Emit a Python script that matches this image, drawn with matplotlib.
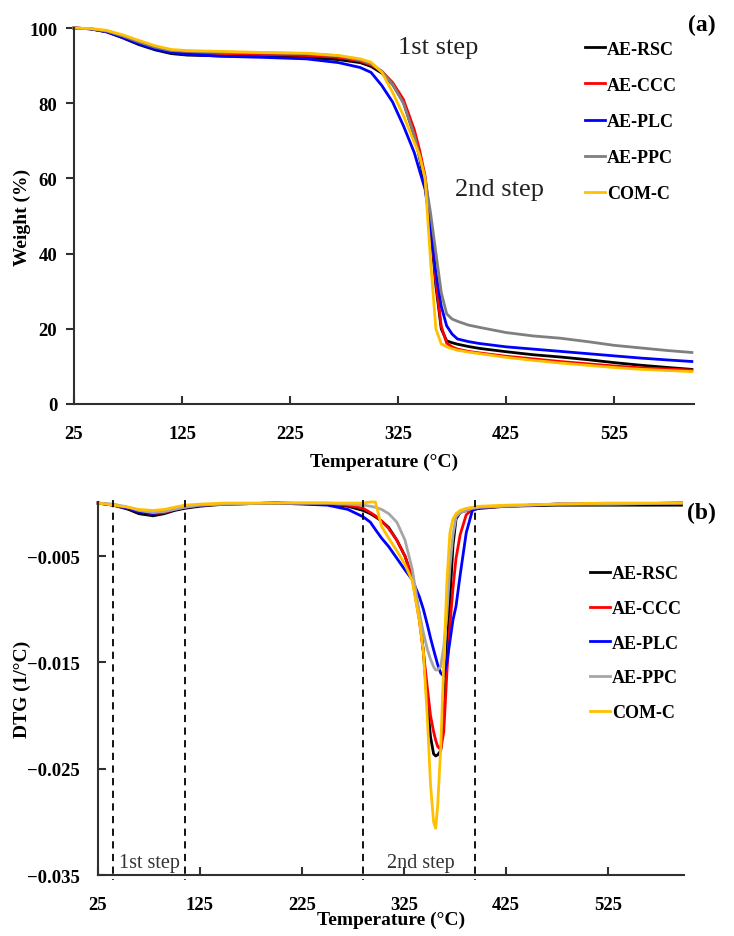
import matplotlib
matplotlib.use('Agg')
import matplotlib.pyplot as plt

names = ['AE-RSC', 'AE-CCC', 'AE-PLC', 'AE-PPC', 'COM-C']
colors_a = ['#000000', '#FF0000', '#0000FF', '#7F7F7F', '#FFC000']
colors_b = ['#000000', '#FF0000', '#0000FF', '#A6A6A6', '#FFC000']

# TGA (a)
temp_tga = [25, 40, 55, 70, 85, 100, 115, 130, 160, 200, 240, 270, 290, 300, 310, 320, 330,
            340, 345, 350, 355, 360, 365, 370, 375, 380, 390, 400, 425, 450, 475, 500,
            525, 550, 575, 597]
w_rsc = [100, 99.8, 99.0, 97.4, 95.6, 94.2, 93.2, 92.8, 92.6, 92.4, 92.2, 91.6, 90.8, 89.8,
         88.0, 85.0, 80.3, 71.4, 65.5, 58.0, 47.4, 31.5, 20.0, 16.8, 16.3, 15.9, 15.3, 14.8,
         13.9, 13.1, 12.5, 11.8, 11.0, 10.3, 9.7, 9.2]
w_ccc = [100, 99.8, 99.1, 97.7, 96.0, 94.6, 93.8, 93.5, 93.3, 93.0, 92.7, 92.2, 91.2, 90.2,
         88.5, 85.5, 81.0, 73.0, 67.5, 60.7, 48.6, 32.8, 20.7, 16.2, 15.2, 14.6, 14.0, 13.6,
         12.7, 12.0, 11.3, 10.7, 10.1, 9.6, 9.3, 9.0]
w_plc = [100, 99.8, 99.0, 97.5, 95.8, 94.4, 93.5, 93.0, 92.5, 92.2, 91.8, 90.8, 89.5, 88.2,
         84.7, 80.3, 74.0, 66.9, 62.0, 57.2, 47.4, 35.0, 26.0, 20.8, 18.6, 17.3, 16.6, 16.1,
         15.2, 14.6, 14.0, 13.4, 12.8, 12.2, 11.7, 11.3]
w_ppc = [100, 99.8, 99.2, 97.9, 96.3, 94.9, 94.0, 93.8, 93.6, 93.4, 93.2, 92.6, 91.5, 90.5,
         88.5, 85.0, 80.0, 71.5, 66.0, 60.0, 51.0, 40.3, 29.7, 24.0, 22.6, 22.0, 21.0, 20.4,
         19.0, 18.1, 17.5, 16.6, 15.6, 14.9, 14.2, 13.7]
w_com = [100, 99.9, 99.4, 98.2, 96.7, 95.3, 94.3, 94.0, 93.8, 93.5, 93.3, 92.7, 91.8, 90.9,
         88.2, 82.9, 76.7, 69.6, 66.0, 60.0, 38.6, 20.0, 16.0, 15.2, 14.7, 14.3, 13.8, 13.4,
         12.4, 11.6, 10.9, 10.3, 9.7, 9.2, 8.9, 8.6]

# DTG (b)
temp_dtg = [25, 40, 55, 65, 79, 90, 100, 110, 125, 150, 200, 250, 270, 285, 292, 297, 303,
            310, 318, 326, 333, 340, 344, 348, 351, 354, 356, 358, 361, 364, 367, 370, 373,
            376, 380, 386, 392, 400, 425, 475, 525, 597]
d_rsc = [0, -0.0002, -0.0006, -0.0010, -0.0012, -0.0010, -0.0007, -0.0005, -0.0003, -0.0001,
         0.0, -0.0001, -0.0003, -0.0007, -0.0010, -0.0013, -0.0017, -0.0023, -0.0035, -0.0050,
         -0.0070, -0.0105, -0.0140, -0.0190, -0.0220, -0.0236, -0.0238, -0.0237, -0.0233,
         -0.0200, -0.0145, -0.0090, -0.0040, -0.0015, -0.0009, -0.0007, -0.0006, -0.0005,
         -0.0003, -0.0002, -0.0002, -0.0002]
d_ccc = [0, -0.0002, -0.0005, -0.0008, -0.0010, -0.0009, -0.0006, -0.0004, -0.0002, -0.0001,
         0.0, -0.0001, -0.0002, -0.0005, -0.0009, -0.0012, -0.0017, -0.0024, -0.0035, -0.0050,
         -0.0070, -0.0110, -0.0140, -0.0175, -0.0200, -0.0215, -0.0223, -0.0229, -0.0232,
         -0.0215, -0.0160, -0.0115, -0.0080, -0.0052, -0.0030, -0.0011, -0.0006, -0.0004,
         -0.0003, -0.0001, -0.0001, 0.0]
d_plc = [0, -0.0002, -0.0005, -0.0008, -0.0010, -0.0008, -0.0006, -0.0004, -0.0002, -0.0001,
         0.0, -0.0002, -0.0006, -0.0013, -0.0018, -0.0025, -0.0033, -0.0041, -0.0052, -0.0063,
         -0.0072, -0.0088, -0.0100, -0.0115, -0.0127, -0.0138, -0.0145, -0.0152, -0.0160,
         -0.0163, -0.0150, -0.0130, -0.0110, -0.0097, -0.0068, -0.0028, -0.0007, -0.0004,
         -0.0003, -0.0001, -0.0001, 0.0]
d_ppc = [0, -0.0001, -0.0004, -0.0007, -0.0009, -0.0008, -0.0006, -0.0004, -0.0002, -0.0001,
         0.0, 0.0, -0.0001, -0.0002, -0.0003, -0.0004, -0.0006, -0.0010, -0.0018, -0.0035,
         -0.0062, -0.0103, -0.0122, -0.0138, -0.0147, -0.0154, -0.0157, -0.0157, -0.0154,
         -0.0135, -0.0105, -0.0060, -0.0030, -0.0013, -0.0009, -0.0007, -0.0005, -0.0004,
         -0.0003, -0.0001, -0.0001, 0.0]
d_com = [0, -0.0002, -0.0004, -0.0006, -0.0007, -0.0006, -0.0004, -0.0002, -0.0001, 0.0,
         0.0, 0.0, 0.0, 0.0, 0.0001, 0.0001, -0.0022, -0.0033, -0.0045, -0.0058,
         -0.0073, -0.0110, -0.0140, -0.0205, -0.0265, -0.0300, -0.0306, -0.0285, -0.0230,
         -0.0150, -0.0075, -0.0028, -0.0015, -0.0010, -0.0007, -0.0005, -0.0004, -0.0003,
         -0.0002, -0.0001, 0.0, 0.0]

step_lines = [40, 110, 285, 395]
x_ticks = [25, 125, 225, 325, 425, 525]

plt.rcParams['font.family'] = 'Liberation Serif'
plt.rcParams['axes.unicode_minus'] = True

fig = plt.figure(figsize=(7.34, 9.37), dpi=100)
ax1 = fig.add_axes([0.1008, 0.5678, 0.8447, 0.4012])
ax2 = fig.add_axes([0.1335, 0.0651, 0.7984, 0.3981])

spine_c = '#303030'
for ax in (ax1, ax2):
    for s in ('top', 'right'):
        ax.spines[s].set_visible(False)
    for s in ('left', 'bottom'):
        ax.spines[s].set_linewidth(1.5)
        ax.spines[s].set_color(spine_c)

# (a)
tga = [w_rsc, w_ccc, w_plc, w_ppc, w_com]
for vals, c, n in zip(tga, colors_a, names):
    ax1.plot(temp_tga, vals, color=c, lw=2, label=n, clip_on=False)
ax1.set_xlim(25, 599)
ax1.set_ylim(0, 100)
ax1.set_xticks(x_ticks)
ax1.set_yticks([0, 20, 40, 60, 80, 100])
ax1.tick_params(axis='x', direction='in', length=6, width=1.5, color=spine_c, pad=15,
                labelsize=13.5)
ax1.tick_params(axis='y', direction='out', length=6, width=1.5, color=spine_c, pad=6,
                labelsize=13.5)
for lab in ax1.get_xticklabels() + ax1.get_yticklabels():
    lab.set_fontweight('bold')
ax1.set_xlabel('Temperature (°C)', fontsize=14, fontweight='bold')
ax1.set_ylabel('Weight (%)', fontsize=14, fontweight='bold')
ax1.xaxis.set_label_coords(0.5, -0.13)
ax1.yaxis.set_label_coords(-0.069, 0.5)
ax1.text(362, 95, '1st step', fontsize=19, color='#222222', ha='center', va='center')
ax1.text(419, 57.2, '2nd step', fontsize=19, color='#222222', ha='center', va='center')
ax1.legend(loc='upper left', bbox_to_anchor=(0.797, 0.9556), bbox_transform=fig.transFigure,
           frameon=False, handlelength=1.1, handletextpad=0.1, labelspacing=1.06,
           borderpad=0, borderaxespad=0, prop={'weight': 'bold', 'size': 13})
fig.text(0.956, 0.973, '(a)', fontsize=17, fontweight='bold', ha='center', va='center')

# (b)
dtg = [d_rsc, d_ccc, d_plc, d_ppc, d_com]
for vals, c, n in zip(dtg, colors_b, names):
    ax2.plot(temp_dtg, vals, color=c, lw=2, label=n, clip_on=False)
for t in step_lines:
    ax2.plot([t, t], [0.0003, -0.0355], color='black', lw=1.3, ls=(0, (4, 3)), clip_on=False)
ax2.set_xlim(25, 599.5)
ax2.set_ylim(-0.035, 0.0001)
ax2.set_xticks(x_ticks)
ax2.set_yticks([-0.035, -0.025, -0.015, -0.005])
ax2.set_yticklabels(['\u22120.035', '\u22120.025', '\u22120.015', '\u22120.005'])
ax2.tick_params(axis='x', direction='in', length=6, width=1.5, color=spine_c, pad=15,
                labelsize=13.5)
ax2.tick_params(axis='y', direction='in', length=6, width=1.5, color=spine_c, pad=13,
                labelsize=13.5)
for lab in ax2.get_xticklabels() + ax2.get_yticklabels():
    lab.set_fontweight('bold')
ax2.set_xlabel('Temperature (°C)', fontsize=14, fontweight='bold')
ax2.set_ylabel('DTG (1/°C)', fontsize=14, fontweight='bold')
ax2.xaxis.set_label_coords(0.5, -0.097)
ax2.yaxis.set_label_coords(-0.114, 0.5)
ax2.text(75.5, -0.0338, '1st step', fontsize=14.5, color='#333333', ha='center', va='center')
ax2.text(341, -0.0338, '2nd step', fontsize=14.5, color='#333333', ha='center', va='center')
ax2.legend(loc='upper left', bbox_to_anchor=(0.804, 0.3958), bbox_transform=fig.transFigure,
           frameon=False, handlelength=1.1, handletextpad=0.1, labelspacing=0.98,
           borderpad=0, borderaxespad=0, prop={'weight': 'bold', 'size': 13})
fig.text(0.956, 0.4525, '(b)', fontsize=17, fontweight='bold', ha='center', va='center')

fig.savefig('out.png', dpi=100)
